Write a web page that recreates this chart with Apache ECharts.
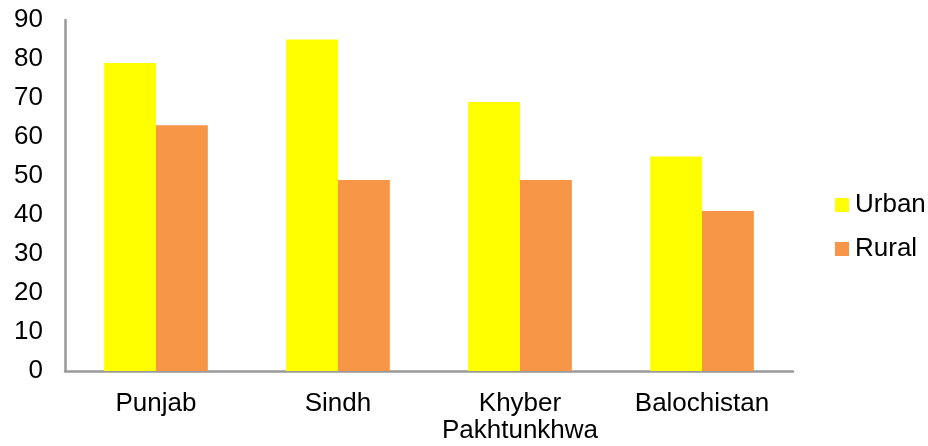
<!DOCTYPE html>
<html><head><meta charset="utf-8">
<script src="https://cdn.jsdelivr.net/npm/echarts@6/dist/echarts.min.js"></script>
<style>html,body{margin:0;padding:0;background:#fff}#c{width:928px;height:446px}</style>
</head><body><div id="c"></div>
<script>
const categories = ['Punjab', 'Sindh', 'Khyber\nPakhtunkhwa', 'Balochistan'];
const urban = [79, 85, 69, 55];
const rural = [63, 49, 49, 41];
const yTicks = { min: 0, max: 90, interval: 10 };

const chart = echarts.init(document.getElementById('c'));
const font = 'Liberation Sans, Arial, sans-serif';
chart.setOption({
  animation: false,
  textStyle: { fontFamily: font },
  grid: { left: 65, right: 135, top: 20, bottom: 75, containLabel: false },
  legend: {
    orient: 'vertical', left: 830, top: 187,
    itemWidth: 14, itemHeight: 14, itemGap: 18,
    icon: 'rect',
    textStyle: { fontSize: 26, color: '#000', fontFamily: font, padding: [0, 0, 0, 1] },
    data: ['Urban', 'Rural']
  },
  xAxis: {
    type: 'category', data: categories,
    axisLine: { lineStyle: { color: '#999', width: 2.5 } },
    axisTick: { show: false },
    axisLabel: { color: '#000', fontSize: 26, margin: 19, lineHeight: 27, fontFamily: font, interval: 0 }
  },
  yAxis: {
    type: 'value', min: yTicks.min, max: yTicks.max, interval: yTicks.interval,
    axisLine: { show: true, lineStyle: { color: '#999', width: 2.5 } },
    axisTick: { show: false },
    splitLine: { show: false },
    axisLabel: { color: '#000', fontSize: 26, margin: 22, fontFamily: font }
  },
  series: [
    { name: 'Urban', type: 'bar', data: urban, itemStyle: { color: '#FFFF00' }, barGap: '0%', barCategoryGap: '43%' },
    { name: 'Rural', type: 'bar', data: rural, itemStyle: { color: '#F79646' }, barGap: '0%', barCategoryGap: '43%' }
  ]
});
</script></body></html>
